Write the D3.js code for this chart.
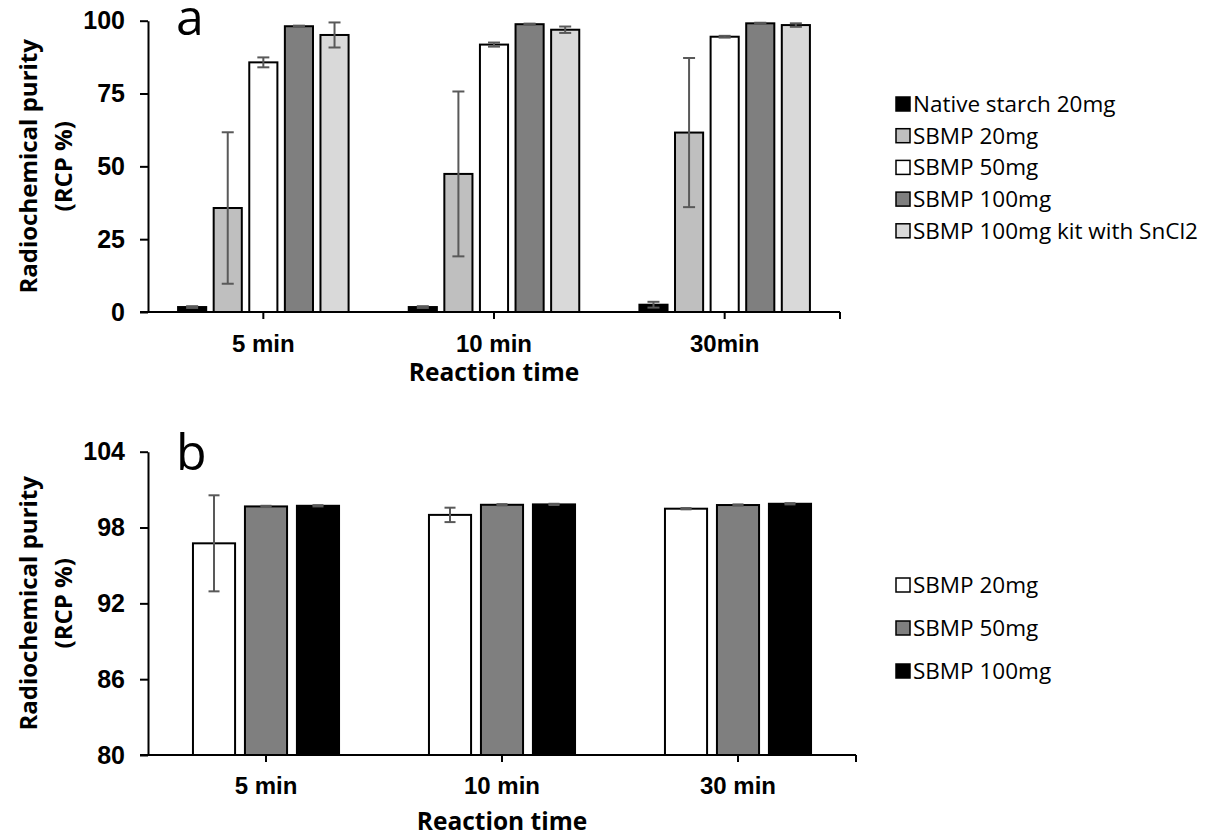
<!DOCTYPE html>
<html>
<head>
<meta charset="utf-8">
<script src="https://cdn.jsdelivr.net/npm/d3@7"></script>
<style>
  body { margin: 0; background: #fff; }
  svg { font-family: "Open Sans", sans-serif; }
</style>
</head>
<body>
<svg id="chart" width="1214" height="839"></svg>
<script>
// panel a
var timesA = ["5 min", "10 min", "30min"];
var seriesA = ["Native starch 20mg", "SBMP 20mg", "SBMP 50mg", "SBMP 100mg", "SBMP 100mg kit with SnCl2"];
var valuesA = [
  [1.7, 1.7, 2.5],
  [35.7, 47.4, 61.6],
  [85.7, 91.8, 94.5],
  [98.1, 98.8, 99.1],
  [95.1, 96.9, 98.5]
];
var errorsA = [
  [0.3, 0.3, 1.0],
  [26.0, 28.3, 25.6],
  [1.7, 0.7, 0.3],
  [0.2, 0.2, 0.2],
  [4.3, 1.1, 0.6]
];
var colorsA = ["#000000", "#bfbfbf", "#ffffff", "#7f7f7f", "#d9d9d9"];
var ticksA = [0, 25, 50, 75, 100];

// panel b
var timesB = ["5 min", "10 min", "30 min"];
var seriesB = ["SBMP 20mg", "SBMP 50mg", "SBMP 100mg"];
var valuesB = [
  [96.75, 99.0, 99.49],
  [99.67, 99.8, 99.78],
  [99.72, 99.83, 99.88]
];
var errorsB = [
  [3.8, 0.57, 0.05],
  [0.05, 0.05, 0.05],
  [0.05, 0.05, 0.05]
];
var colorsB = ["#ffffff", "#7f7f7f", "#000000"];
var ticksB = [80, 86, 92, 98, 104];

var svg = d3.select("#chart");

var drawPanel = function(o) {
  var g = svg.append("g");

  var x = d3.scaleBand().domain(o.times).range([o.left, o.right]);
  var xs = d3.scaleBand().domain(o.series).range([0, x.bandwidth()])
      .paddingInner(o.padInner).paddingOuter(o.padOuter);
  var y = d3.scaleLinear().domain([o.ticks[0], o.ticks[o.ticks.length - 1]]).range([o.bottom, o.top]);

  // bars + error bars
  o.series.forEach(function(s, i) {
    g.append("g").selectAll("rect")
      .data(o.values[i])
      .enter().append("rect")
      .attr("x", function(d, j) { return x(o.times[j]) + xs(s); })
      .attr("y", function(d) { return y(d); })
      .attr("width", xs.bandwidth())
      .attr("height", function(d) { return y(o.ticks[0]) - y(d); })
      .attr("fill", o.colors[i])
      .attr("stroke", "#000")
      .attr("stroke-width", 2);

    var err = g.append("g").attr("stroke", "#595959").attr("stroke-width", 2);
    o.values[i].forEach(function(v, j) {
      var cx = x(o.times[j]) + xs(s) + xs.bandwidth() / 2,
          e = o.errors[i][j];
      err.append("line").attr("x1", cx).attr("x2", cx).attr("y1", y(v - e)).attr("y2", y(v + e));
      [v - e, v + e].forEach(function(t) {
        err.append("line").attr("x1", cx - o.cap / 2).attr("x2", cx + o.cap / 2).attr("y1", y(t)).attr("y2", y(t));
      });
    });
  });

  // y axis
  var yAxis = g.append("g")
    .attr("transform", "translate(" + o.left + ",0)")
    .call(d3.axisLeft(y).tickValues(o.ticks).tickSize(8).tickSizeOuter(0).tickPadding(15));
  yAxis.select(".domain").attr("stroke-width", 2);
  yAxis.selectAll(".tick line").attr("stroke-width", 2);
  yAxis.selectAll("text").attr("font-size", 25).attr("font-weight", "bold").attr("fill", "#000");

  // x axis
  var xAxis = g.append("g")
    .attr("transform", "translate(0," + o.bottom + ")")
    .call(d3.axisBottom(x).tickSize(7).tickSizeOuter(0).tickPadding(o.xPad));
  xAxis.select(".domain").remove();
  xAxis.append("line").attr("x1", o.left - 8).attr("x2", o.right).attr("stroke", "#000").attr("stroke-width", 2);
  xAxis.append("line").attr("x1", o.right).attr("x2", o.right).attr("y2", 7).attr("stroke", "#000").attr("stroke-width", 2);
  xAxis.selectAll(".tick line").attr("stroke-width", 2);
  xAxis.selectAll("text").attr("font-size", 24).attr("font-weight", "bold").attr("fill", "#000");

  // titles
  g.append("text")
    .attr("x", (o.left + o.right) / 2).attr("y", o.titleY)
    .attr("text-anchor", "middle").attr("font-size", 24.5).attr("font-weight", "bold")
    .text("Reaction time");

  var yt = g.append("text")
    .attr("transform", "translate(0," + ((o.top + o.bottom) / 2) + ") rotate(-90)")
    .attr("text-anchor", "middle").attr("font-size", 24).attr("font-weight", "bold");
  yt.append("tspan").attr("x", 0).attr("y", 37).text("Radiochemical purity");
  yt.append("tspan").attr("x", 0).attr("y", 72).text("(RCP %)");

  g.append("text")
    .attr("x", 176).attr("y", o.letterY)
    .attr("font-size", 50)
    .text(o.letter);

  // legend
  var leg = g.append("g");
  o.series.forEach(function(s, i) {
    var cy = o.legendY + i * o.legendStep;
    leg.append("rect")
      .attr("x", 896).attr("y", cy - 7).attr("width", 14).attr("height", 14)
      .attr("fill", o.colors[i]).attr("stroke", "#000").attr("stroke-width", 1.5);
    leg.append("text")
      .attr("x", 913).attr("y", cy).attr("dy", "0.35em")
      .attr("font-size", 22.5)
      .text(s);
  });
};

drawPanel({
  times: timesA, series: seriesA, values: valuesA, errors: errorsA, colors: colorsA, ticks: ticksA,
  left: 148, right: 840, top: 20.7, bottom: 312,
  padInner: 0.21, padOuter: 0.845, cap: 12, xPad: 16,
  titleY: 381, letter: "a", letterY: 35,
  legendY: 104, legendStep: 31.7
});

drawPanel({
  times: timesB, series: seriesB, values: valuesB, errors: errorsB, colors: colorsB, ticks: ticksB,
  left: 148, right: 856, top: 451.7, bottom: 755,
  padInner: 0.19, padOuter: 0.865, cap: 11, xPad: 15,
  titleY: 830, letter: "b", letterY: 470,
  legendY: 585, legendStep: 43
});
</script>
</body>
</html>
